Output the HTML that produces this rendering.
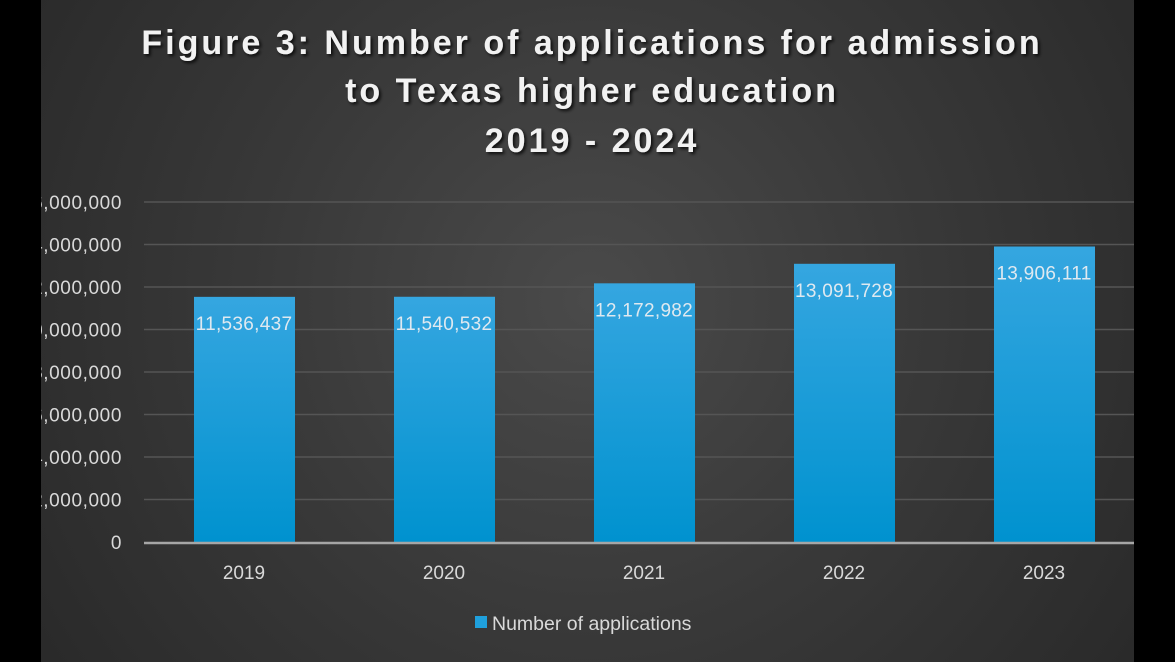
<!DOCTYPE html>
<html><head><meta charset="utf-8"><style>
html,body{margin:0;padding:0;background:#000;width:1175px;height:662px;overflow:hidden}
svg{display:block}
text{font-family:"Liberation Sans",sans-serif}
</style></head><body>
<svg id="c" width="1175" height="662">
<defs>
<radialGradient id="bg" cx="590" cy="300" r="650" gradientUnits="userSpaceOnUse">
<stop offset="0" stop-color="#4a4a4a"/><stop offset="0.5" stop-color="#393939"/><stop offset="1" stop-color="#2a2a2a"/>
</radialGradient>
<linearGradient id="bar" x1="0" y1="0" x2="0" y2="1">
<stop offset="0" stop-color="#35a6e0"/><stop offset="1" stop-color="#0092cf"/>
</linearGradient>
<filter id="sh"><feDropShadow dx="2" dy="2" stdDeviation="1.5" flood-color="#000" flood-opacity="0.8"/></filter>
</defs>
<rect x="0" y="0" width="1175" height="662" fill="url(#bg)"/>
<g filter="url(#sh)" fill="#f2f2f2" font-weight="bold" font-size="34" text-anchor="middle" letter-spacing="3">
<text x="592" y="54">Figure 3: Number of applications for admission</text>
<text x="592" y="102">to Texas higher education</text>
<text x="592" y="152">2019 - 2024</text>
</g>
<g id="grid"></g><g id="bars"></g>
<rect x="0" y="0" width="41" height="662" fill="#000"/>
<rect x="1134" y="0" width="41" height="662" fill="#000"/>
<g>
<rect x="475" y="616" width="12" height="12" fill="#1fa0dc"/>
<text x="492" y="630" font-size="19.5" fill="#d9d9d9">Number of applications</text>
</g>
</svg>
<script>
const categories=["2019","2020","2021","2022","2023"];
const values=[11536437,11540532,12172982,13091728,13906111];
const yTicks=[0,2000000,4000000,6000000,8000000,10000000,12000000,14000000,16000000];
const NS="http://www.w3.org/2000/svg";
const y0=542,y1=202,yMax=16000000,xL=144,xR=1134;
const yS=v=>y0-(v/yMax)*(y0-y1);
const band=200,xS=i=>xL+band*(i+0.5);
function mk(t,a,p){const e=document.createElementNS(NS,t);for(const k in a)e.setAttribute(k,a[k]);p.appendChild(e);return e;}
const g=document.getElementById('grid'),b=document.getElementById('bars');
yTicks.forEach(v=>{
 if(v>0){const l=mk('line',{x1:xL,x2:xR,y1:yS(v),y2:yS(v),stroke:'#555','stroke-width':1.5},g);
 
 }
 const t=mk('text',{x:122,y:yS(v)+7,'text-anchor':'end','font-size':19,'letter-spacing':0.6,fill:'#d9d9d9'},g);
 t.textContent=v.toLocaleString('en-US');
 
 
});
values.forEach((v,i)=>{
 const r=mk('rect',{x:xS(i)-50,y:yS(v),width:101,height:y0-yS(v),fill:'url(#bar)'},b);
 
 
 const t=mk('text',{x:xS(i),y:yS(v)+33,'text-anchor':'middle','font-size':19,'letter-spacing':0.3,fill:'#dfe9f0'},b);
 t.textContent=v.toLocaleString('en-US');
 
 
 const c=mk('text',{x:xS(i),y:579,'text-anchor':'middle','font-size':19,fill:'#d9d9d9'},b);
 c.textContent=categories[i];
 
 
});
const ax=mk('line',{x1:xL,x2:xR,y1:y0+1,y2:y0+1,stroke:'#a6a6a6','stroke-width':2.5},b);


</script>
</body></html>
